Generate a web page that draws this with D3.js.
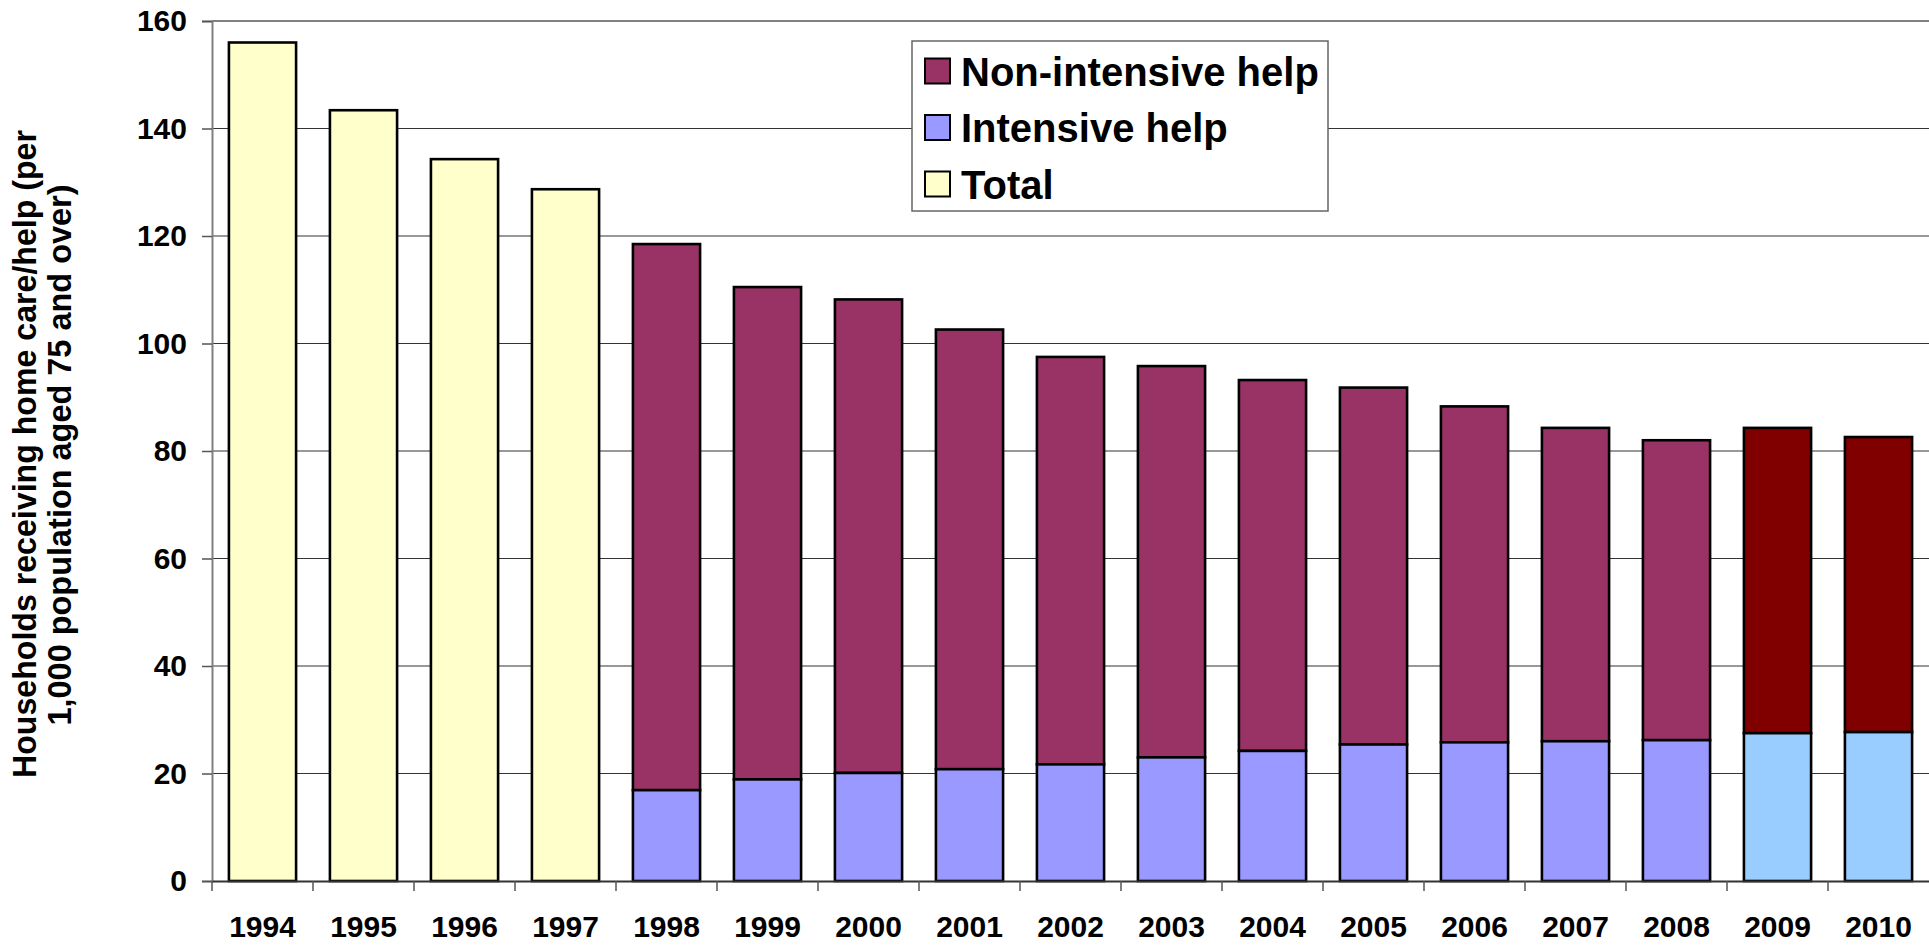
<!DOCTYPE html>
<html lang="en">
<head>
    <meta charset="UTF-8">
    <title>Households receiving home care/help</title>
    <script src="https://d3js.org/d3.v7.min.js"></script>
    <style>
        body { margin: 0; background: #fff; }
        text { font-family: "Liberation Sans", Arial, sans-serif; font-weight: bold; fill: #000; }
        .tick-label { font-size: 30px; }
        .legend-label { font-size: 40px; }
        .y-title { font-size: 34px; }
    </style>
</head>
<body>
    <svg width="1929" height="945"></svg>
    <script>
        const years = ["1994", "1995", "1996", "1997", "1998", "1999", "2000", "2001", "2002",
                       "2003", "2004", "2005", "2006", "2007", "2008", "2009", "2010"];
        // only 1994-1997 have a total without the split
        const totalValues = [156.0, 143.4, 134.3, 128.7, null, null, null, null, null,
                             null, null, null, null, null, null, null, null];
        const intensiveValues = [null, null, null, null, 16.9, 18.9, 20.1, 20.8, 21.7,
                                 23.0, 24.2, 25.4, 25.8, 26.0, 26.2, 27.5, 27.7];
        const nonIntensiveValues = [null, null, null, null, 101.6, 91.6, 88.1, 81.8, 75.8,
                                    72.8, 69.0, 66.4, 62.5, 58.3, 55.8, 56.8, 54.9];
        // years drawn in the darker / lighter shades
        const newBasisYears = ["2009", "2010"];
        const yTicks = [0, 20, 40, 60, 80, 100, 120, 140, 160];
        const legendItems = ["Non-intensive help", "Intensive help", "Total"];

        const colors = {
            total: "#FFFFCC",
            intensive: "#9999FF",
            nonIntensive: "#993366",
            intensiveNew: "#99CCFF",
            nonIntensiveNew: "#800000"
        };
        const legendColors = [colors.nonIntensive, colors.intensive, colors.total];

        const svg = d3.select("svg");
        const plotLeft = 212, plotRight = 1929, plotTop = 21, plotBottom = 881;

        const x = d3.scaleBand()
            .domain(years)
            .range([plotLeft, plotRight])
            .paddingInner(0.335)
            .paddingOuter(0.1675);

        const y = d3.scaleLinear()
            .domain([0, 160])
            .range([plotBottom, plotTop]);

        // gridlines
        svg.append("g")
            .selectAll("line")
            .data(yTicks.filter(t => t > 0 && t < 160))
            .enter().append("line")
            .attr("x1", plotLeft).attr("x2", plotRight)
            .attr("y1", d => y(d)).attr("y2", d => y(d))
            .attr("stroke", "#333")
            .attr("stroke-width", 1.2);

        // top border of plot area
        svg.append("line")
            .attr("x1", plotLeft).attr("x2", plotRight)
            .attr("y1", y(160)).attr("y2", y(160))
            .attr("stroke", "#808080")
            .attr("stroke-width", 2);

        const rows = years.map((yr, i) => ({
            year: yr,
            total: totalValues[i],
            intensive: intensiveValues[i],
            nonIntensive: nonIntensiveValues[i],
            isNew: newBasisYears.includes(yr)
        }));

        const bars = svg.append("g")
            .attr("stroke", "#000")
            .attr("stroke-width", 2.6);

        bars.selectAll(".total")
            .data(rows.filter(d => d.total != null))
            .enter().append("rect")
            .attr("x", d => x(d.year))
            .attr("y", d => y(d.total))
            .attr("width", x.bandwidth())
            .attr("height", d => y(0) - y(d.total))
            .attr("fill", colors.total);

        const split = rows.filter(d => d.intensive != null);

        bars.selectAll(".non")
            .data(split)
            .enter().append("rect")
            .attr("x", d => x(d.year))
            .attr("y", d => y(d.intensive + d.nonIntensive))
            .attr("width", x.bandwidth())
            .attr("height", d => y(d.intensive) - y(d.intensive + d.nonIntensive))
            .attr("fill", d => d.isNew ? colors.nonIntensiveNew : colors.nonIntensive);

        bars.selectAll(".int")
            .data(split)
            .enter().append("rect")
            .attr("x", d => x(d.year))
            .attr("y", d => y(d.intensive))
            .attr("width", x.bandwidth())
            .attr("height", d => y(0) - y(d.intensive))
            .attr("fill", d => d.isNew ? colors.intensiveNew : colors.intensive);

        // y axis
        const yAxis = svg.append("g")
            .attr("transform", `translate(${plotLeft},0)`)
            .call(d3.axisLeft(y).tickValues(yTicks).tickSize(10).tickPadding(15));
        yAxis.select(".domain").attr("stroke", "#808080").attr("stroke-width", 2);
        yAxis.selectAll(".tick line").attr("stroke", "#555").attr("stroke-width", 1.5);
        yAxis.selectAll("text").attr("class", "tick-label");
        yAxis.attr("font-size", null).attr("font-family", null);

        // x axis: labels centred, ticks at category boundaries
        const xAxis = svg.append("g")
            .attr("transform", `translate(0,${plotBottom})`)
            .call(d3.axisBottom(x).tickSize(0).tickPadding(35).tickSizeOuter(0));
        xAxis.select(".domain").attr("stroke", "#333").attr("stroke-width", 2);
        xAxis.selectAll("text").attr("class", "tick-label");
        xAxis.attr("font-size", null).attr("font-family", null);

        const gap = (x.step() - x.bandwidth()) / 2;
        xAxis.selectAll(".boundary")
            .data(years)
            .enter().append("line")
            .attr("x1", d => x(d) - gap).attr("x2", d => x(d) - gap)
            .attr("y1", 0).attr("y2", 10)
            .attr("stroke", "#555")
            .attr("stroke-width", 1.5);

        // y axis title
        const title = svg.append("g").attr("transform", "rotate(-90)");
        title.append("text")
            .attr("class", "y-title")
            .attr("x", -454).attr("y", 36)
            .attr("text-anchor", "middle")
            .attr("textLength", 648)
            .attr("lengthAdjust", "spacingAndGlyphs")
            .text("Households receiving home care/help (per");
        title.append("text")
            .attr("class", "y-title")
            .attr("x", -455).attr("y", 71)
            .attr("text-anchor", "middle")
            .attr("textLength", 541)
            .attr("lengthAdjust", "spacingAndGlyphs")
            .text("1,000 population aged 75 and over)");

        // legend
        const legend = svg.append("g");
        legend.append("rect")
            .attr("x", 912).attr("y", 41)
            .attr("width", 416).attr("height", 170)
            .attr("fill", "#fff")
            .attr("stroke", "#666")
            .attr("stroke-width", 1.5);

        const item = legend.selectAll(".item")
            .data(legendItems)
            .enter().append("g")
            .attr("transform", (d, i) => `translate(925,${58.5 + i * 56.5})`);
        item.append("rect")
            .attr("width", 25).attr("height", 25)
            .attr("fill", (d, i) => legendColors[i])
            .attr("stroke", "#000")
            .attr("stroke-width", 2);
        item.append("text")
            .attr("class", "legend-label")
            .attr("x", 36).attr("y", 27)
            .text(d => d);
    </script>
</body>
</html>
